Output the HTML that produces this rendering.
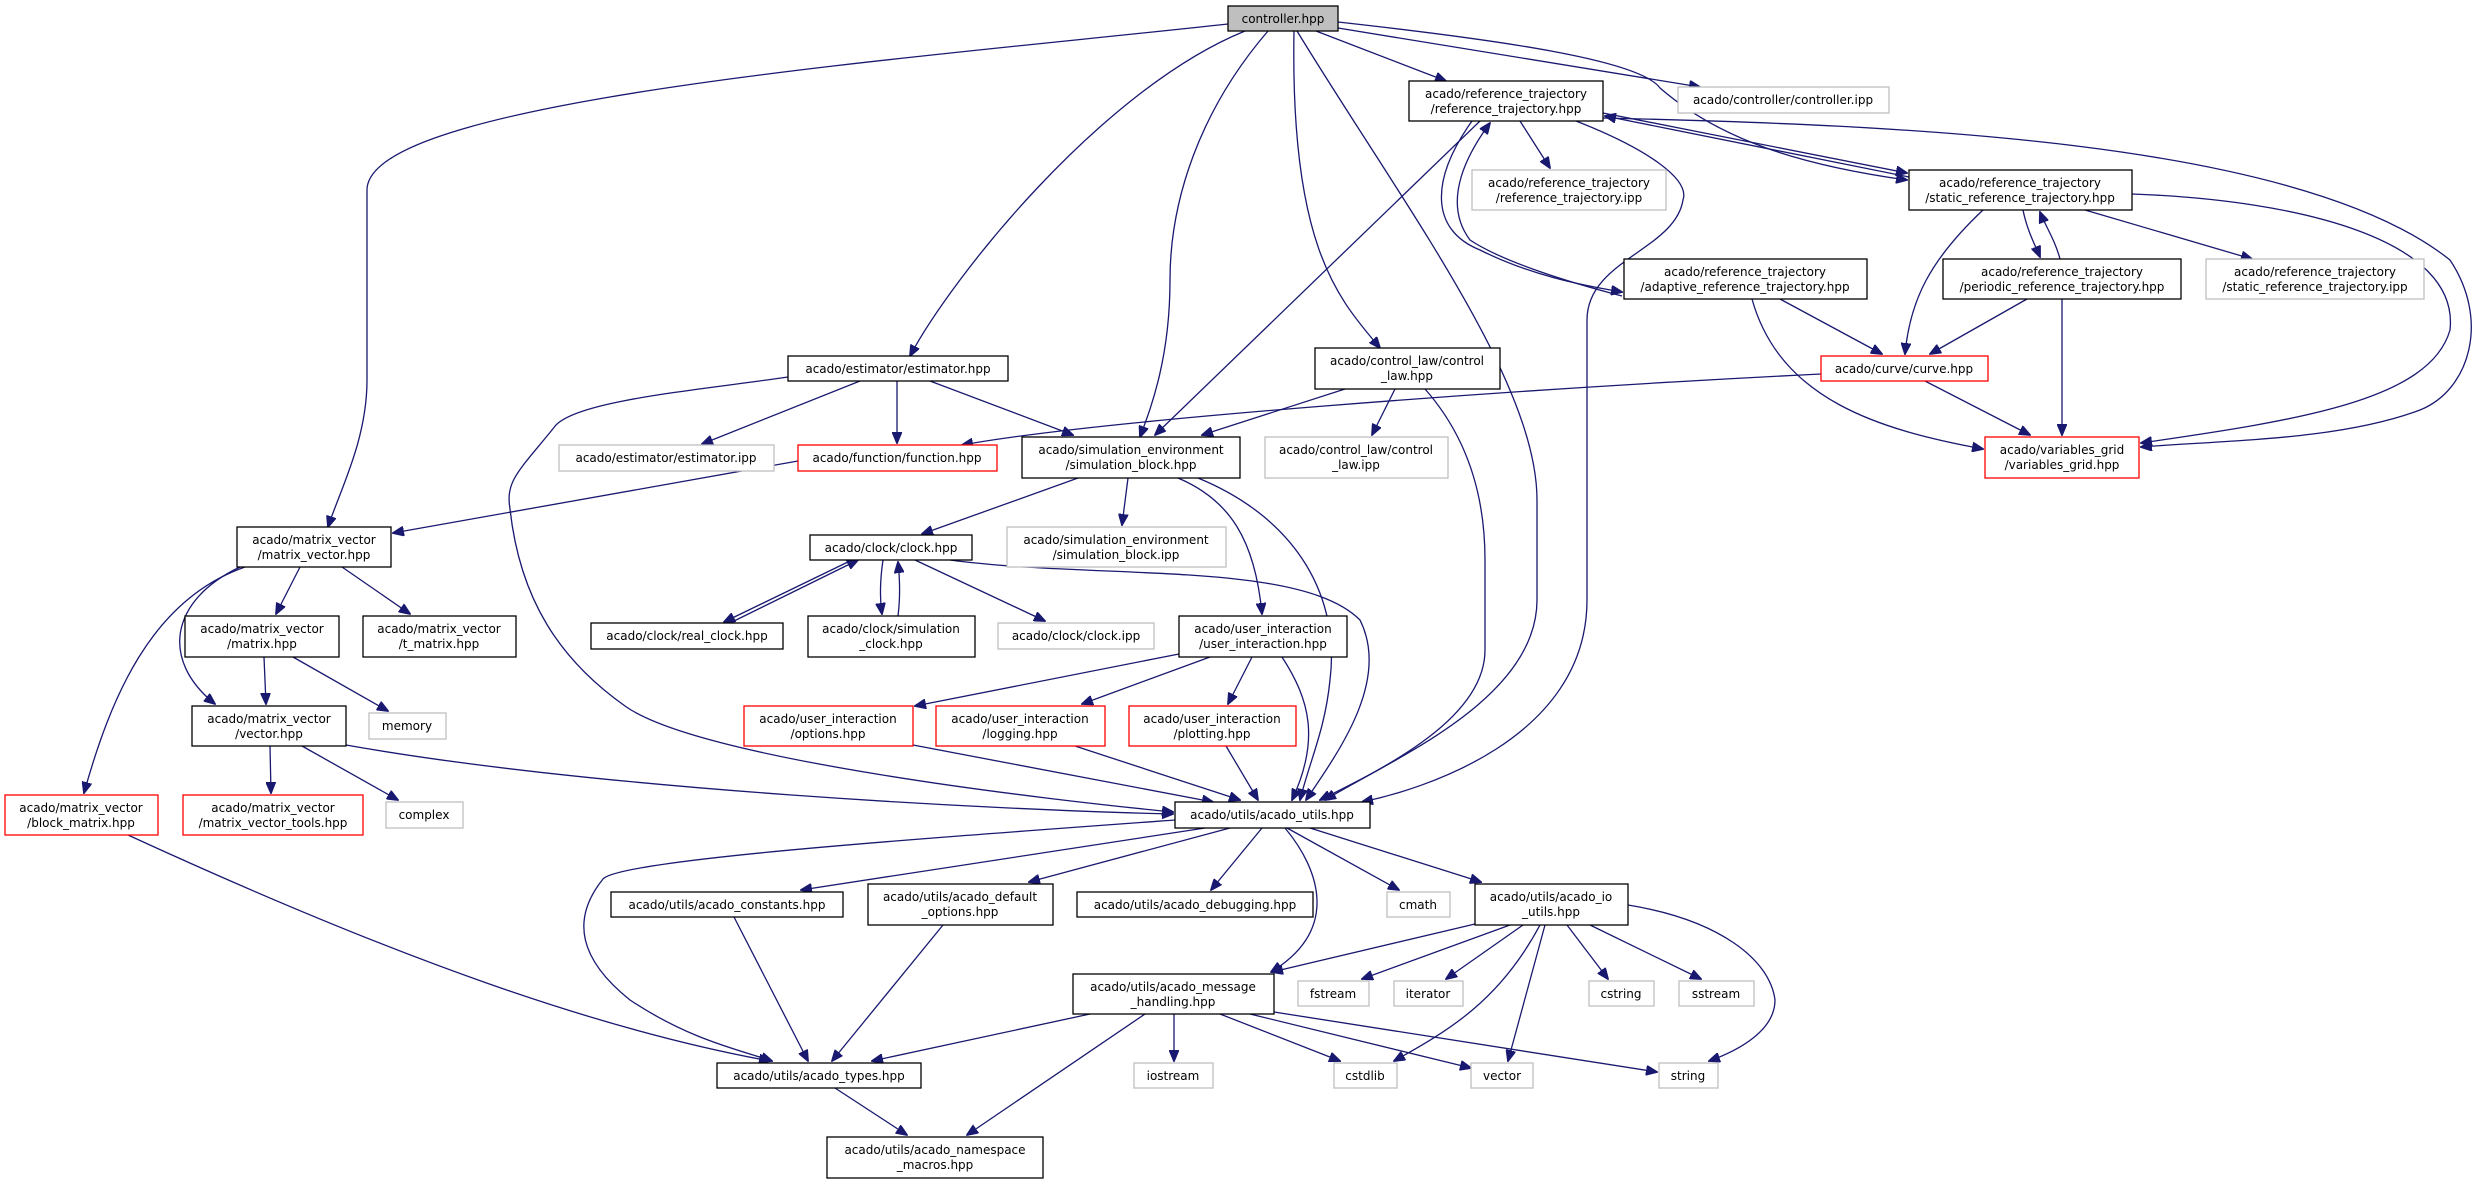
<!DOCTYPE html>
<html><head><meta charset="utf-8"><style>
html,body{margin:0;padding:0;background:#fff;}
svg{display:block;}
text{font-family:"DejaVu Sans","Liberation Sans",sans-serif;font-size:12px;text-anchor:middle;fill:#000;}
.e{fill:none;stroke:#191970;stroke-width:1.3;marker-end:url(#a);}
.b{fill:#fff;stroke:#000;stroke-width:1.3;}
.g{fill:#fff;stroke:#bfbfbf;stroke-width:1.3;}
.r{fill:#fff;stroke:#ff0000;stroke-width:1.3;}
</style></head><body>
<svg width="2479" height="1184" viewBox="0 0 2479 1184" xmlns="http://www.w3.org/2000/svg">
<defs><marker id="a" markerWidth="12" markerHeight="10" refX="11" refY="5" orient="auto" markerUnits="userSpaceOnUse"><path d="M0,0 L12,5 L0,10 z" fill="#191970" stroke="#191970"/></marker></defs>

<!-- edges -->
<path class="e" d="M1228,24 C900,60 367,100 367,190 L367,380 C367,440 340,490 328,527"/>
<path class="e" d="M1245,31 C1100,90 950,280 910,356"/>
<path class="e" d="M1268,31 C1200,110 1170,200 1170,280 C1170,360 1150,410 1140,437"/>
<path class="e" d="M1316,31 L1446,81"/>
<path class="e" d="M1338,28 L1700,87"/>
<path class="e" d="M1294,31 C1290,250 1340,300 1380,348"/>
<path class="e" d="M1338,22 C1500,40 1640,60 1660,88 C1720,140 1800,165 1907,180"/>
<path class="e" d="M1297,31 C1400,200 1537,380 1537,500 L1537,600 C1537,700 1390,760 1325,800"/>
<path class="e" d="M1520,121 L1550,168"/>
<path class="e" d="M1480,121 L1155,435"/>
<path class="e" d="M1472,121 C1430,180 1430,230 1480,250 C1530,275 1580,285 1622,292"/>
<path class="e" d="M1622,296 C1560,280 1500,260 1470,240 C1440,200 1470,150 1490,123"/>
<path class="e" d="M1603,113 L1907,173"/>
<path class="e" d="M1909,177 L1605,116"/>
<path class="e" d="M1603,118 C1900,125 2300,140 2450,260 C2490,320 2470,390 2420,410 C2340,440 2230,440 2141,447"/>
<path class="e" d="M1576,121 C1650,150 1690,180 1683,200 C1675,250 1587,260 1587,320 L1587,600 C1587,740 1420,790 1362,802"/>
<path class="e" d="M2085,210 L2252,259"/>
<path class="e" d="M2023,210 C2027,230 2035,245 2040,257"/>
<path class="e" d="M2060,259 C2055,240 2045,225 2040,212"/>
<path class="e" d="M1983,210 C1930,260 1910,300 1905,354"/>
<path class="e" d="M2132,194 C2300,200 2460,240 2450,330 C2430,400 2300,420 2141,443"/>
<path class="e" d="M1780,299 L1882,354"/>
<path class="e" d="M1752,299 C1780,400 1880,430 1983,449"/>
<path class="e" d="M2027,299 L1930,354"/>
<path class="e" d="M2062,299 L2062,435"/>
<path class="e" d="M1925,381 L2030,435"/>
<path class="e" d="M1821,374 C1500,390 1100,420 962,445"/>
<path class="e" d="M860,381 L702,444"/>
<path class="e" d="M897,381 L897,443"/>
<path class="e" d="M930,381 L1073,435"/>
<path class="e" d="M788,377 C700,390 580,400 556,425 C520,470 505,480 510,509 C520,600 560,660 625,706 C700,760 1050,800 1173,812"/>
<path class="e" d="M798,461 L393,533"/>
<path class="e" d="M1128,478 L1122,525"/>
<path class="e" d="M1078,478 L922,534"/>
<path class="e" d="M1178,478 C1230,500 1255,540 1262,614"/>
<path class="e" d="M1198,478 C1300,520 1340,600 1330,680 C1325,730 1310,760 1300,800"/>
<path class="e" d="M1345,389 L1202,435"/>
<path class="e" d="M1395,389 L1372,435"/>
<path class="e" d="M1425,389 C1470,440 1485,500 1485,560 L1485,650 C1485,720 1380,770 1320,800"/>
<path class="e" d="M852,560 L724,622"/>
<path class="e" d="M730,623 L858,560"/>
<path class="e" d="M883,560 C880,580 880,600 882,614"/>
<path class="e" d="M898,616 C900,600 900,580 898,562"/>
<path class="e" d="M915,560 L1045,621"/>
<path class="e" d="M950,560 C1100,580 1300,560 1360,620 C1390,680 1340,750 1306,800"/>
<path class="e" d="M1179,654 L915,706"/>
<path class="e" d="M1210,657 L1082,704"/>
<path class="e" d="M1252,657 L1228,704"/>
<path class="e" d="M1282,657 C1310,700 1320,740 1292,800"/>
<path class="e" d="M913,745 L1213,802"/>
<path class="e" d="M1075,746 L1240,800"/>
<path class="e" d="M1226,746 L1258,800"/>
<path class="e" d="M300,567 L276,614"/>
<path class="e" d="M342,567 L410,614"/>
<path class="e" d="M240,567 C170,600 160,660 215,704"/>
<path class="e" d="M245,567 C150,600 110,700 84,793"/>
<path class="e" d="M264,657 L266,704"/>
<path class="e" d="M293,657 L388,711"/>
<path class="e" d="M270,746 L271,793"/>
<path class="e" d="M302,746 L398,800"/>
<path class="e" d="M346,745 C600,790 1000,810 1173,814"/>
<path class="e" d="M128,835 C400,960 600,1030 770,1061"/>
<path class="e" d="M734,917 L808,1061"/>
<path class="e" d="M943,925 L832,1061"/>
<path class="e" d="M1205,828 L801,890"/>
<path class="e" d="M1230,828 L1029,882"/>
<path class="e" d="M1262,828 L1211,890"/>
<path class="e" d="M1287,828 L1399,890"/>
<path class="e" d="M1310,828 L1481,882"/>
<path class="e" d="M1285,828 C1320,870 1340,930 1271,972"/>
<path class="e" d="M1175,820 C900,840 620,860 603,879 C570,920 580,960 630,1000 C690,1040 740,1050 772,1061"/>
<path class="e" d="M1475,924 L1272,972"/>
<path class="e" d="M1510,925 L1362,979"/>
<path class="e" d="M1523,925 L1446,979"/>
<path class="e" d="M1540,925 C1500,1000 1450,1030 1394,1061"/>
<path class="e" d="M1545,925 L1508,1061"/>
<path class="e" d="M1567,925 L1608,979"/>
<path class="e" d="M1590,925 L1701,979"/>
<path class="e" d="M1628,905 C1720,920 1770,960 1775,1000 C1775,1030 1740,1050 1709,1061"/>
<path class="e" d="M1090,1014 L872,1061"/>
<path class="e" d="M1145,1014 L967,1135"/>
<path class="e" d="M1174,1014 L1174,1061"/>
<path class="e" d="M1220,1014 L1340,1061"/>
<path class="e" d="M1250,1014 L1471,1068"/>
<path class="e" d="M1274,1012 L1657,1072"/>
<path class="e" d="M835,1088 L907,1135"/>

<!-- nodes -->
<rect x="1228" y="6" width="110" height="25" fill="#bfbfbf" stroke="#000" stroke-width="1.3"/><text x="1283" y="23">controller.hpp</text>
<rect class="b" x="1409" y="81" width="194" height="40"/><text x="1506" y="98">acado/reference_trajectory</text><text x="1506" y="113">/reference_trajectory.hpp</text>
<rect class="g" x="1678" y="87" width="211" height="26"/><text x="1783" y="104">acado/controller/controller.ipp</text>
<rect class="g" x="1472" y="170" width="194" height="40"/><text x="1569" y="187">acado/reference_trajectory</text><text x="1569" y="202">/reference_trajectory.ipp</text>
<rect class="b" x="1909" y="170" width="223" height="40"/><text x="2020" y="187">acado/reference_trajectory</text><text x="2020" y="202">/static_reference_trajectory.hpp</text>
<rect class="b" x="1624" y="259" width="243" height="40"/><text x="1745" y="276">acado/reference_trajectory</text><text x="1745" y="291">/adaptive_reference_trajectory.hpp</text>
<rect class="b" x="1943" y="259" width="238" height="40"/><text x="2062" y="276">acado/reference_trajectory</text><text x="2062" y="291">/periodic_reference_trajectory.hpp</text>
<rect class="g" x="2206" y="259" width="218" height="40"/><text x="2315" y="276">acado/reference_trajectory</text><text x="2315" y="291">/static_reference_trajectory.ipp</text>
<rect class="b" x="788" y="356" width="220" height="25"/><text x="898" y="373">acado/estimator/estimator.hpp</text>
<rect class="b" x="1315" y="348" width="185" height="41"/><text x="1407" y="365">acado/control_law/control</text><text x="1407" y="380">_law.hpp</text>
<rect class="r" x="1821" y="356" width="167" height="25"/><text x="1904" y="373">acado/curve/curve.hpp</text>
<rect class="g" x="559" y="445" width="215" height="26"/><text x="666" y="462">acado/estimator/estimator.ipp</text>
<rect class="r" x="798" y="445" width="199" height="26"/><text x="897" y="462">acado/function/function.hpp</text>
<rect class="b" x="1022" y="437" width="218" height="41"/><text x="1131" y="454">acado/simulation_environment</text><text x="1131" y="469">/simulation_block.hpp</text>
<rect class="g" x="1265" y="437" width="183" height="41"/><text x="1356" y="454">acado/control_law/control</text><text x="1356" y="469">_law.ipp</text>
<rect class="r" x="1985" y="437" width="154" height="41"/><text x="2062" y="454">acado/variables_grid</text><text x="2062" y="469">/variables_grid.hpp</text>
<rect class="b" x="237" y="527" width="154" height="40"/><text x="314" y="544">acado/matrix_vector</text><text x="314" y="559">/matrix_vector.hpp</text>
<rect class="b" x="810" y="535" width="162" height="25"/><text x="891" y="552">acado/clock/clock.hpp</text>
<rect class="g" x="1007" y="527" width="219" height="40"/><text x="1116" y="544">acado/simulation_environment</text><text x="1116" y="559">/simulation_block.ipp</text>
<rect class="b" x="185" y="616" width="154" height="41"/><text x="262" y="633">acado/matrix_vector</text><text x="262" y="648">/matrix.hpp</text>
<rect class="b" x="363" y="616" width="153" height="41"/><text x="439" y="633">acado/matrix_vector</text><text x="439" y="648">/t_matrix.hpp</text>
<rect class="b" x="591" y="623" width="192" height="26"/><text x="687" y="640">acado/clock/real_clock.hpp</text>
<rect class="b" x="808" y="616" width="167" height="41"/><text x="891" y="633">acado/clock/simulation</text><text x="891" y="648">_clock.hpp</text>
<rect class="g" x="998" y="623" width="156" height="26"/><text x="1076" y="640">acado/clock/clock.ipp</text>
<rect class="b" x="1179" y="616" width="168" height="41"/><text x="1263" y="633">acado/user_interaction</text><text x="1263" y="648">/user_interaction.hpp</text>
<rect class="b" x="192" y="706" width="154" height="40"/><text x="269" y="723">acado/matrix_vector</text><text x="269" y="738">/vector.hpp</text>
<rect class="g" x="369" y="713" width="77" height="26"/><text x="407" y="730">memory</text>
<rect class="r" x="744" y="706" width="169" height="40"/><text x="828" y="723">acado/user_interaction</text><text x="828" y="738">/options.hpp</text>
<rect class="r" x="936" y="706" width="169" height="40"/><text x="1020" y="723">acado/user_interaction</text><text x="1020" y="738">/logging.hpp</text>
<rect class="r" x="1129" y="706" width="167" height="40"/><text x="1212" y="723">acado/user_interaction</text><text x="1212" y="738">/plotting.hpp</text>
<rect class="r" x="5" y="795" width="153" height="40"/><text x="81" y="812">acado/matrix_vector</text><text x="81" y="827">/block_matrix.hpp</text>
<rect class="r" x="183" y="795" width="180" height="40"/><text x="273" y="812">acado/matrix_vector</text><text x="273" y="827">/matrix_vector_tools.hpp</text>
<rect class="g" x="386" y="802" width="77" height="26"/><text x="424" y="819">complex</text>
<rect class="b" x="1175" y="802" width="195" height="26"/><text x="1272" y="819">acado/utils/acado_utils.hpp</text>
<rect class="b" x="611" y="892" width="232" height="25"/><text x="727" y="909">acado/utils/acado_constants.hpp</text>
<rect class="b" x="868" y="884" width="185" height="41"/><text x="960" y="901">acado/utils/acado_default</text><text x="960" y="916">_options.hpp</text>
<rect class="b" x="1077" y="892" width="236" height="25"/><text x="1195" y="909">acado/utils/acado_debugging.hpp</text>
<rect class="g" x="1387" y="892" width="63" height="25"/><text x="1418" y="909">cmath</text>
<rect class="b" x="1475" y="884" width="153" height="41"/><text x="1551" y="901">acado/utils/acado_io</text><text x="1551" y="916">_utils.hpp</text>
<rect class="b" x="1073" y="974" width="201" height="40"/><text x="1173" y="991">acado/utils/acado_message</text><text x="1173" y="1006">_handling.hpp</text>
<rect class="g" x="1298" y="981" width="71" height="25"/><text x="1333" y="998">fstream</text>
<rect class="g" x="1394" y="981" width="69" height="25"/><text x="1428" y="998">iterator</text>
<rect class="g" x="1589" y="981" width="65" height="25"/><text x="1621" y="998">cstring</text>
<rect class="g" x="1679" y="981" width="75" height="25"/><text x="1716" y="998">sstream</text>
<rect class="b" x="717" y="1063" width="204" height="25"/><text x="819" y="1080">acado/utils/acado_types.hpp</text>
<rect class="g" x="1134" y="1063" width="79" height="25"/><text x="1173" y="1080">iostream</text>
<rect class="g" x="1334" y="1063" width="63" height="25"/><text x="1365" y="1080">cstdlib</text>
<rect class="g" x="1471" y="1063" width="62" height="25"/><text x="1502" y="1080">vector</text>
<rect class="g" x="1659" y="1063" width="59" height="25"/><text x="1688" y="1080">string</text>
<rect class="b" x="827" y="1137" width="216" height="41"/><text x="935" y="1154">acado/utils/acado_namespace</text><text x="935" y="1169">_macros.hpp</text>
</svg>
</body></html>
